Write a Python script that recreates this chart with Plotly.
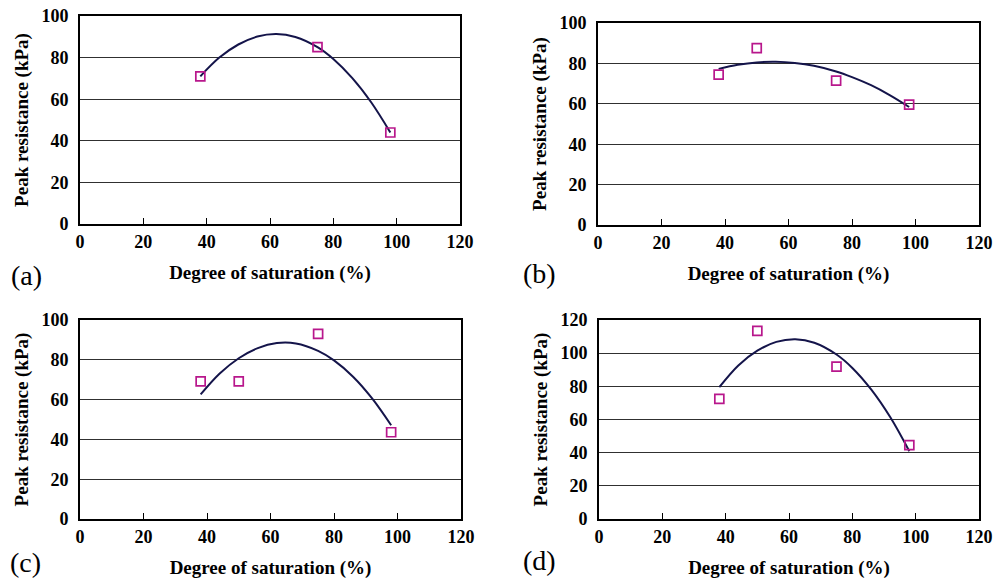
import plotly.graph_objects as go

# ---- data ----
saturation_a = [38, 75, 98]
peak_a = [71, 85, 44]
saturation_b = [38, 50, 75, 98]
peak_b = [74.4, 87.6, 71.5, 59.6]
saturation_c = [38, 50, 75, 98]
peak_c = [69.2, 69.2, 93.0, 43.6]
saturation_d = [38, 50, 75, 98]
peak_d = [72.4, 113.4, 91.9, 44.6]

trend_x = [38, 44, 50, 56, 62, 68, 75, 80, 86, 92, 98]
trend_a = [71, 80.0, 86.3, 90.1, 91.3, 89.9, 85, 79.3, 70.1, 58.4, 44]
trend_b = [77.3, 79.3, 80.5, 80.8, 80.2, 78.8, 76.0, 73.2, 69.2, 64.2, 58.4]
trend_c = [62.6, 73.1, 80.8, 85.9, 88.4, 88.2, 84.5, 79.7, 71.5, 60.6, 47.1]
trend_d = [79.5, 92.6, 101.5, 106.8, 108.4, 106.3, 99.2, 91.1, 78.0, 61.3, 40.8]

x_ticks = [0, 20, 40, 60, 80, 100, 120]
y_ticks_100 = [0, 20, 40, 60, 80, 100]
y_ticks_120 = [0, 20, 40, 60, 80, 100, 120]
panel_labels = ["(a)", "(b)", "(c)", "(d)"]

W, H = 995, 580
FONT = "Liberation Serif, Times New Roman, serif"
MARKER_COLOR = "#b8178c"
LINE_COLOR = "#14144a"
GRID = "#303030"


def px_x(p):
    return p / W


def px_y(p):
    return 1 - p / H


# plot-area rectangles in window pixels (left, right, top, bottom)
panels = [
    (80, 460, 16, 224),
    (598, 979, 23, 225),
    (80, 461, 320, 519),
    (599, 979, 320, 519),
]
data_sets = [
    (saturation_a, peak_a, trend_a, y_ticks_100),
    (saturation_b, peak_b, trend_b, y_ticks_100),
    (saturation_c, peak_c, trend_c, y_ticks_100),
    (saturation_d, peak_d, trend_d, y_ticks_120),
]
label_pos = [(26, 275), (539, 274), (25, 562), (539, 560)]

fig = go.Figure()
layout = dict(
    width=W, height=H,
    margin=dict(l=0, r=0, t=0, b=0),
    paper_bgcolor="white", plot_bgcolor="white",
    showlegend=False,
    font=dict(family=FONT, color="black", size=17),
)
annotations = []

tick_font = dict(family=FONT, size=18, color="black", weight="bold")
title_font = dict(family=FONT, size=19, color="black", weight="bold")

for i, ((l, r, t, b), (sx, sy, ty, yt), lab, (lx, ly)) in enumerate(
        zip(panels, data_sets, panel_labels, label_pos)):
    n = "" if i == 0 else str(i + 1)
    xa, ya = "x" + n, "y" + n
    fig.add_trace(go.Scatter(
        x=trend_x, y=ty, mode="lines", line=dict(color=LINE_COLOR, width=2, shape="spline"),
        xaxis=xa, yaxis=ya, hoverinfo="skip"))
    fig.add_trace(go.Scatter(
        x=sx, y=sy, mode="markers",
        marker=dict(symbol="square-open", size=9, color=MARKER_COLOR, line=dict(width=1.7)),
        xaxis=xa, yaxis=ya))
    layout["xaxis" + n] = dict(
        domain=[px_x(l), px_x(r)], anchor=ya, range=[0, 120],
        tickvals=x_ticks, ticks="inside", ticklen=6, tickcolor="black",
        showline=True, linecolor="black", linewidth=1.6, mirror=True,
        showgrid=False, zeroline=False, automargin=False,
        tickfont=tick_font, ticklabelstandoff=1, ticklabeloverflow="allow",
        title=dict(text="Degree of saturation (%)", font=title_font, standoff=14),
    )
    layout["yaxis" + n] = dict(
        domain=[px_y(b), px_y(t)], anchor=xa, range=[0, yt[-1]],
        tickvals=yt, ticks="", showline=True, linecolor="black", linewidth=1.6, mirror=True,
        showgrid=True, gridcolor=GRID, gridwidth=1.2, zeroline=False, automargin=False,
        tickfont=tick_font, ticklabelstandoff=6, ticklabeloverflow="allow",
        title=dict(text="Peak resistance (kPa)", font=title_font, standoff=8),
    )
    annotations.append(dict(
        text=lab, x=px_x(lx), y=px_y(ly), xref="paper", yref="paper",
        xanchor="center", yanchor="middle", showarrow=False,
        font=dict(family=FONT, size=28, color="black")))

layout["annotations"] = annotations
fig.update_layout(**layout)
fig.write_html(
    "out.html",
    config={"displayModeBar": False},
    post_script="document.body.style.margin='0';document.body.style.overflow='hidden';",
)
